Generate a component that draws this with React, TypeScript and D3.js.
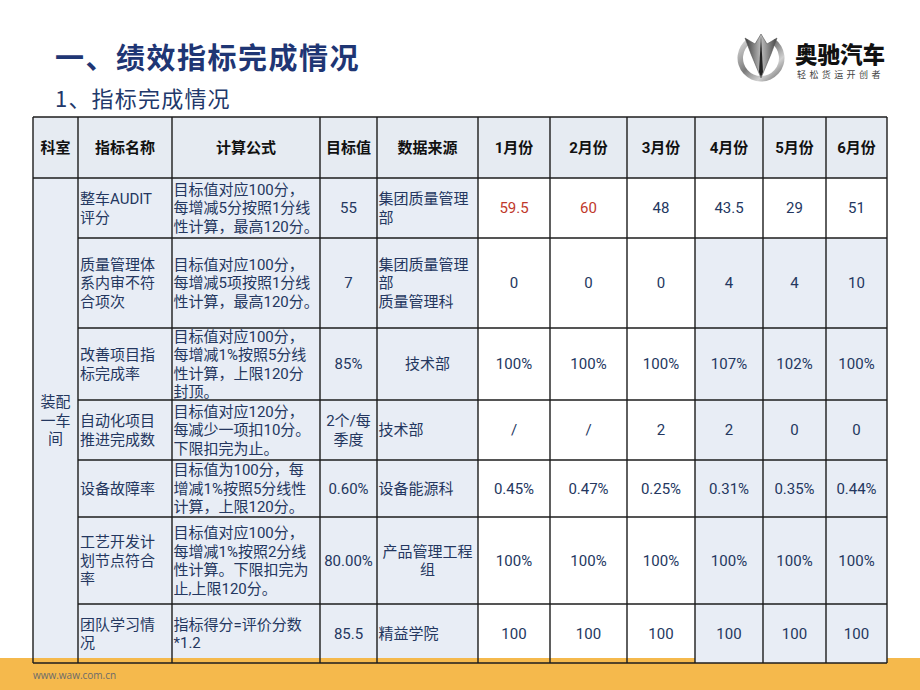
import React from "react";
import * as d3 from "d3";

// ---------- data ----------
const title = "一、绩效指标完成情况";
const subtitle = "1、指标完成情况";
const headers = ["科室", "指标名称", "计算公式", "目标值", "数据来源"];
const months = ["1月份", "2月份", "3月份", "4月份", "5月份", "6月份"];
const department = ["装配", "一车", "间"];
const indicatorNames = [
  ["整车AUDIT", "评分"],
  ["质量管理体", "系内审不符", "合项次"],
  ["改善项目指", "标完成率"],
  ["自动化项目", "推进完成数"],
  ["设备故障率"],
  ["工艺开发计", "划节点符合", "率"],
  ["团队学习情", "况"],
];
const formulas = [
  ["目标值对应100分，", "每增减5分按照1分线", "性计算，最高120分。"],
  ["目标值对应100分，", "每增减5项按照1分线", "性计算，最高120分。"],
  ["目标值对应100分，", "每增减1%按照5分线", "性计算，上限120分", "封顶。"],
  ["目标值对应120分，", "每减少一项扣10分。", "下限扣完为止。"],
  ["目标值为100分，每", "增减1%按照5分线性", "计算，上限120分。"],
  ["目标值对应100分，", "每增减1%按照2分线", "性计算。下限扣完为", "止,上限120分。"],
  ["指标得分=评价分数", "*1.2"],
];
const targets = [["55"], ["7"], ["85%"], ["2个/每", "季度"], ["0.60%"], ["80.00%"], ["85.5"]];
const sources = [
  ["集团质量管理", "部"],
  ["集团质量管理", "部", "质量管理科"],
  ["技术部"],
  ["技术部"],
  ["设备能源科"],
  ["产品管理工程", "组"],
  ["精益学院"],
];
const sourceCentered = [false, false, true, false, false, true, false];
const monthValues = [
  ["59.5", "60", "48", "43.5", "29", "51"],
  ["0", "0", "0", "4", "4", "10"],
  ["100%", "100%", "100%", "107%", "102%", "100%"],
  ["/", "/", "2", "2", "0", "0"],
  ["0.45%", "0.47%", "0.25%", "0.31%", "0.35%", "0.44%"],
  ["100%", "100%", "100%", "100%", "100%", "100%"],
  ["100", "100", "100", "100", "100", "100"],
];
const highlighted = [[true, true, false, false, false, false]];
const brand = "奥驰汽车";
const slogan = "轻松货运开创者";
const website = "www.waw.com.cn";

// ---------- layout ----------
const W = 920;
const H = 690;
const colEdges = [33, 78, 172, 320, 377, 478, 550, 627, 695, 763, 826, 887];
const rowEdges = [117, 178, 238, 328, 400, 460, 517, 604, 663];
const FONT = "'Noto Sans CJK SC', 'Noto Sans', sans-serif";
const BODY_FONT = "Roboto, 'Noto Sans CJK SC', sans-serif";
const NAVY = "#24375F";
const CELL_BLUE = "#E8EDF5";
const HEADER_BLUE = "#E6EBF2";
const ORANGE = "#F5B94C";
const BORDER = "#1c1c1c";

const allCols = [...headers, ...months];
const xLeft = d3.scaleOrdinal<string, number>().domain(allCols).range(colEdges.slice(0, -1));
const xRight = d3.scaleOrdinal<string, number>().domain(allCols).range(colEdges.slice(1));
const rowKeys = ["header", ...indicatorNames.map((_, i) => `r${i}`)];
const yTop = d3.scaleOrdinal<string, number>().domain(rowKeys).range(rowEdges.slice(0, -1));
const yBot = d3.scaleOrdinal<string, number>().domain(rowKeys).range(rowEdges.slice(1));

type TxtProps = {
  lines: string[];
  x: number;
  cy: number;
  anchor?: "start" | "middle" | "end";
  size?: number;
  lh?: number;
  fill?: string;
  weight?: number | string;
  family?: string;
};

function MultiText({ lines, x, cy, anchor = "start", size = 15, lh = 18.5, fill = NAVY, weight = 400, family = BODY_FONT }: TxtProps) {
  const n = lines.length;
  return (
    <g>
      {lines.map((l, i) => (
        <text
          key={i}
          x={x}
          y={cy + (i - (n - 1) / 2) * lh + size * 0.36}
          fontSize={size}
          fontFamily={family}
          fill={fill}
          textAnchor={anchor}
          fontWeight={weight}
        >
          {l}
        </text>
      ))}
    </g>
  );
}

function Logo() {
  const cx = 761;
  const cy = 58;
  const arc = d3.arc()({
    innerRadius: 18,
    outerRadius: 23.5,
    startAngle: (35 * Math.PI) / 180,
    endAngle: (325 * Math.PI) / 180,
  }) as string;
  return (
    <g>
      <defs>
        <linearGradient id="silver" x1="0" y1="0" x2="1" y2="1">
          <stop offset="0%" stopColor="#e6e6e6" />
          <stop offset="45%" stopColor="#7a7a7a" />
          <stop offset="70%" stopColor="#d0d0d0" />
          <stop offset="100%" stopColor="#555" />
        </linearGradient>
        <linearGradient id="silver2" x1="0" y1="0" x2="1" y2="0">
          <stop offset="0%" stopColor="#3a3a3a" />
          <stop offset="50%" stopColor="#bdbdbd" />
          <stop offset="100%" stopColor="#444" />
        </linearGradient>
      </defs>
      <path d={arc} transform={`translate(${cx},${cy})`} fill="url(#silver)" />
      <path
        d={`M${cx - 16},${cy - 20} L${cx - 6},${cy - 14} L${cx},${cy - 24} L${cx + 6},${cy - 14} L${cx + 16},${cy - 20} L${cx + 10},${cy - 4} L${cx},${cy + 20} L${cx - 10},${cy - 4} Z`}
        fill="url(#silver2)"
        stroke="#555"
        strokeWidth={0.6}
      />
      <path d={`M${cx},${cy - 22} L${cx + 2},${cy + 14} L${cx},${cy + 19} L${cx - 2},${cy + 14} Z`} fill="#222" />
      <text x={795} y={63} fontSize={22.5} fontWeight={900} fontFamily={FONT} fill="#111">
        {brand}
      </text>
      <text x={797} y={78} fontSize={9} fontFamily={FONT} fill="#444" letterSpacing={3.4}>
        {slogan}
      </text>
    </g>
  );
}

export default function App() {
  const bodyRows = indicatorNames.map((_, i) => `r${i}`);
  const month456 = months.slice(3);

  const cells: React.ReactNode[] = [];
  allCols.forEach((c) => {
    cells.push(
      <rect
        key={`hb-${c}`}
        x={xLeft(c)}
        y={yTop("header")}
        width={xRight(c) - xLeft(c)}
        height={yBot("header") - yTop("header")}
        fill={HEADER_BLUE}
      />
    );
  });
  cells.push(
    <rect
      key="dept-bg"
      x={xLeft("科室")}
      y={yTop("r0")}
      width={xRight("科室") - xLeft("科室")}
      height={yBot("r6") - yTop("r0")}
      fill={CELL_BLUE}
    />
  );
  bodyRows.forEach((r, ri) => {
    headers.slice(1).forEach((c) => {
      cells.push(
        <rect key={`b-${r}-${c}`} x={xLeft(c)} y={yTop(r)} width={xRight(c) - xLeft(c)} height={yBot(r) - yTop(r)} fill={CELL_BLUE} />
      );
    });
    months.forEach((m) => {
      const blue = ri > 0 && month456.includes(m);
      cells.push(
        <rect
          key={`m-${r}-${m}`}
          x={xLeft(m)}
          y={yTop(r)}
          width={xRight(m) - xLeft(m)}
          height={yBot(r) - yTop(r)}
          fill={blue ? CELL_BLUE : "#ffffff"}
        />
      );
    });
  });

  const bandTop = 658;
  const tableBottom = rowEdges[rowEdges.length - 1];

  const lines: React.ReactNode[] = [];
  colEdges.forEach((x, i) => {
    lines.push(<line key={`v${i}`} x1={x} x2={x} y1={rowEdges[0]} y2={tableBottom} stroke={BORDER} strokeWidth={1.4} />);
  });
  rowEdges.forEach((y, i) => {
    const inner = i >= 2 && i < rowEdges.length - 1;
    lines.push(
      <line
        key={`h${i}`}
        x1={inner ? colEdges[1] : colEdges[0]}
        x2={colEdges[colEdges.length - 1]}
        y1={y}
        y2={y}
        stroke={BORDER}
        strokeWidth={1.4}
      />
    );
  });

  const texts: React.ReactNode[] = [];
  const hcy = (yTop("header") + yBot("header")) / 2;
  allCols.forEach((c) => {
    texts.push(
      <MultiText key={`ht-${c}`} lines={[c]} x={(xLeft(c) + xRight(c)) / 2} cy={hcy} anchor="middle" fill="#111" weight={700} />
    );
  });
  texts.push(
    <MultiText
      key="dept"
      lines={department}
      x={(xLeft("科室") + xRight("科室")) / 2}
      cy={(yTop("r0") + yBot("r6")) / 2}
      anchor="middle"
    />
  );
  bodyRows.forEach((r, ri) => {
    const cy = (yTop(r) + yBot(r)) / 2;
    texts.push(<MultiText key={`n-${r}`} lines={indicatorNames[ri]} x={xLeft("指标名称") + 2} cy={cy} />);
    texts.push(<MultiText key={`f-${r}`} lines={formulas[ri]} x={xLeft("计算公式") + 1.5} cy={cy} />);
    texts.push(
      <MultiText key={`t-${r}`} lines={targets[ri]} x={(xLeft("目标值") + xRight("目标值")) / 2} cy={cy} anchor="middle" />
    );
    texts.push(
      <MultiText
        key={`s-${r}`}
        lines={sources[ri]}
        x={sourceCentered[ri] ? (xLeft("数据来源") + xRight("数据来源")) / 2 : xLeft("数据来源") + 1.5}
        cy={cy}
        anchor={sourceCentered[ri] ? "middle" : "start"}
      />
    );
    months.forEach((m, mi) => {
      const red = highlighted[ri] && highlighted[ri][mi];
      texts.push(
        <MultiText
          key={`v-${r}-${m}`}
          lines={[monthValues[ri][mi]]}
          x={(xLeft(m) + xRight(m)) / 2}
          cy={cy}
          anchor="middle"
          fill={red ? "#C0392B" : NAVY}
        />
      );
    });
  });

  return (
    <svg width={W} height={H} viewBox={`0 0 ${W} ${H}`} style={{ position: "absolute", left: 0, top: 0, background: "#fff" }}>
      <rect x={0} y={0} width={W} height={H} fill="#fff" />
      <text x={55} y={69} fontSize={29} fontWeight={700} fontFamily={FONT} fill="#1F3674" letterSpacing={1.5}>
        {title}
      </text>
      <text x={55} y={107} fontSize={22} fontFamily={FONT} fill="#22386A" letterSpacing={1.2}>
        {subtitle}
      </text>
      <Logo />
      {cells}
      <rect x={0} y={bandTop} width={xLeft("4月份")} height={H - bandTop} fill={ORANGE} />
      <rect x={xRight("6月份")} y={bandTop} width={W - xRight("6月份")} height={H - bandTop} fill={ORANGE} />
      <rect x={xLeft("4月份")} y={tableBottom} width={xRight("6月份") - xLeft("4月份")} height={H - tableBottom} fill={ORANGE} />
      {lines}
      {texts}
      <text x={33} y={679} fontSize={10} fontFamily="'Open Sans', sans-serif" fill="#6b6b6b">
        {website}
      </text>
    </svg>
  );
}
